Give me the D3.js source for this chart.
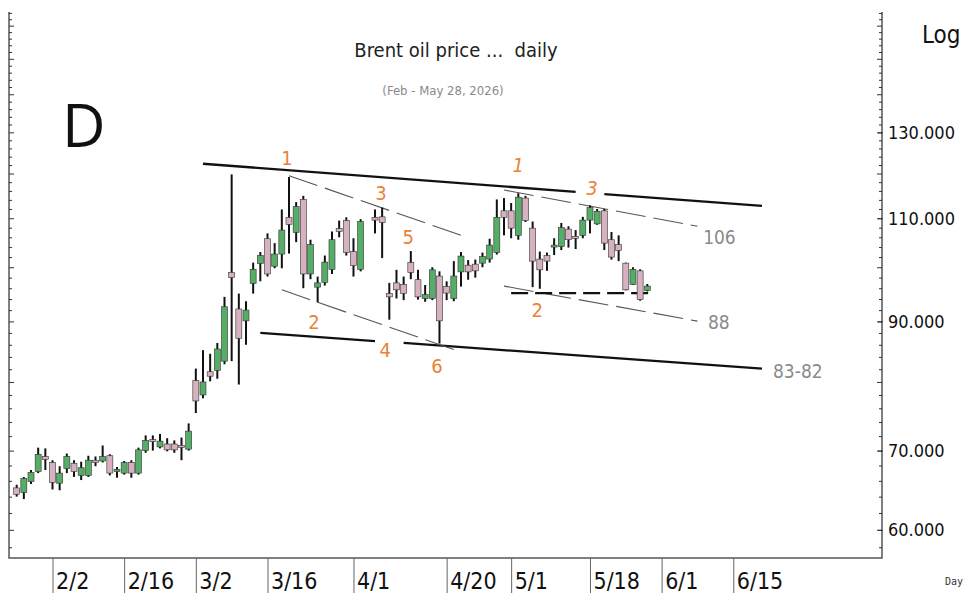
<!DOCTYPE html>
<html>
<head>
<meta charset="utf-8">
<script src="https://cdn.jsdelivr.net/npm/d3@7"></script>
<style>
  html, body { margin: 0; padding: 0; background: #fff; }
  svg { display: block; }
  text { font-family: "DejaVu Sans Condensed", "DejaVu Sans", sans-serif; font-stretch: condensed; }
</style>
</head>
<body>
<div id="chart"></div>
<script>
// Data (weekday index, 4/3 has no session)
var dates = [
  "2026-01-26","2026-01-27","2026-01-28","2026-01-29","2026-01-30",
  "2026-02-02","2026-02-03","2026-02-04","2026-02-05","2026-02-06",
  "2026-02-09","2026-02-10","2026-02-11","2026-02-12","2026-02-13",
  "2026-02-16","2026-02-17","2026-02-18","2026-02-19","2026-02-20",
  "2026-02-23","2026-02-24","2026-02-25","2026-02-26","2026-02-27",
  "2026-03-02","2026-03-03","2026-03-04","2026-03-05","2026-03-06",
  "2026-03-09","2026-03-10","2026-03-11","2026-03-12","2026-03-13",
  "2026-03-16","2026-03-17","2026-03-18","2026-03-19","2026-03-20",
  "2026-03-23","2026-03-24","2026-03-25","2026-03-26","2026-03-27",
  "2026-03-30","2026-03-31","2026-04-01","2026-04-02",
  "2026-04-06","2026-04-07","2026-04-08","2026-04-09","2026-04-10",
  "2026-04-13","2026-04-14","2026-04-15","2026-04-16","2026-04-17",
  "2026-04-20","2026-04-21","2026-04-22","2026-04-23","2026-04-24",
  "2026-04-27","2026-04-28","2026-04-29","2026-04-30","2026-05-01",
  "2026-05-04","2026-05-05","2026-05-06","2026-05-07","2026-05-08",
  "2026-05-11","2026-05-12","2026-05-13","2026-05-14","2026-05-15",
  "2026-05-18","2026-05-19","2026-05-20","2026-05-21","2026-05-22",
  "2026-05-25","2026-05-26","2026-05-27","2026-05-28"
];

var opens = [
  65.1, 64.5, 65.9, 67.2, 69.2,
  68.4, 65.7, 67.6, 68.3, 66.7,
  66.7, 68.7, 68.6, 69.3, 67.2,
  67.0, 68.4, 67.0, 70.0, 71.5,
  70.5, 70.9, 70.9, 70.7, 70.2,
  80.2, 78.0, 81.6, 81.8, 83.3,
  99.0, 92.2, 90.1, 96.9, 100.7,
  105.7, 100.2, 102.6, 110.2, 107.0,
  114.1, 98.7, 96.2, 97.1, 99.6,
  107.8, 109.5, 103.1, 99.6,
  110.2, 110.3, 95.0, 97.0, 96.7,
  100.9, 97.6, 94.1, 94.1, 98.3,
  96.3, 94.1, 99.1, 100.4, 100.6,
  100.8, 101.6, 102.9, 111.6, 111.6,
  106.4, 114.4, 107.9, 101.6, 102.3,
  104.0, 104.1, 107.7, 106.2, 106.4,
  109.6, 108.8, 111.6, 105.5, 104.5,
  100.8, 96.7, 99.3, 95.6
];

var highs = [
  65.5, 66.5, 67.4, 70.4, 70.3,
  68.7, 67.9, 69.6, 68.7, 68.5,
  69.3, 69.2, 70.7, 69.5, 67.8,
  68.6, 68.7, 70.4, 72.1, 72.1,
  72.3, 71.7, 71.4, 71.8, 73.8,
  82.1, 85.1, 84.5, 86.3, 94.4,
  119.8, 95.0, 93.6, 100.9, 103.0,
  106.8, 104.8, 111.9, 119.2, 113.5,
  114.9, 105.5, 98.2, 102.3, 107.2,
  109.5, 110.2, 105.8, 109.8,
  111.9, 112.3, 97.0, 99.5, 98.2,
  103.2, 99.5, 96.6, 100.0, 99.2,
  97.3, 101.2, 103.0, 101.4, 101.5,
  102.9, 105.7, 114.1, 114.4, 113.3,
  115.5, 114.9, 109.3, 103.1, 102.9,
  105.8, 109.0, 108.3, 107.5, 110.3,
  112.8, 112.0, 112.0, 107.1, 106.4,
  100.9, 100.0, 99.6, 96.8
];

var lows = [
  64.0, 63.7, 65.6, 67.0, 67.4,
  64.9, 64.8, 67.0, 66.5, 66.1,
  66.5, 67.9, 68.4, 66.7, 66.4,
  66.8, 66.4, 66.8, 69.7, 70.0,
  70.3, 69.9, 69.7, 68.7, 70.0,
  75.3, 77.5, 80.1, 80.5, 82.8,
  83.3, 79.6, 86.0, 95.0, 97.3,
  98.2, 99.8, 99.8, 102.7, 105.0,
  96.0, 97.7, 93.4, 96.5, 98.7,
  106.0, 102.3, 98.2, 99.2,
  106.8, 101.8, 90.3, 94.1, 93.8,
  97.7, 93.9, 93.5, 93.8, 86.2,
  93.8, 93.6, 96.3, 97.6, 98.0,
  100.0, 100.9, 102.5, 106.4, 105.8,
  105.5, 109.2, 96.2, 95.9, 99.3,
  102.4, 103.4, 103.9, 103.6, 105.8,
  106.8, 108.6, 103.4, 101.5, 101.2,
  95.6, 96.6, 93.7, 95.4
];

var closes = [
  64.3, 66.3, 67.1, 69.5, 68.8,
  65.8, 67.0, 69.2, 67.2, 67.7,
  68.7, 68.4, 69.2, 67.0, 67.5,
  68.4, 67.0, 70.1, 71.4, 71.3,
  71.3, 70.1, 70.1, 70.5, 72.7,
  77.1, 80.0, 80.9, 85.3, 92.6,
  98.0, 87.1, 92.0, 99.6, 102.3,
  98.7, 102.6, 107.5, 108.7, 112.5,
  98.7, 104.5, 97.0, 101.0, 105.5,
  107.2, 102.9, 100.3, 109.3,
  109.6, 109.1, 94.4, 95.7, 95.0,
  99.0, 94.4, 94.8, 99.5, 90.1,
  95.1, 98.3, 102.2, 99.1, 99.3,
  102.1, 104.4, 110.2, 110.2, 107.9,
  114.6, 109.5, 101.2, 99.5, 101.2,
  104.4, 108.0, 105.5, 105.8, 109.6,
  112.3, 111.5, 104.8, 102.0, 103.3,
  95.7, 99.6, 93.9, 96.4
];

// x axis labels
var axisDates = ["2026-02-02","2026-02-16","2026-03-02","2026-03-16","2026-04-01",
                 "2026-04-20","2026-05-01","2026-05-18","2026-06-01","2026-06-15"];
var axisTexts = ["2/2","2/16","3/2","3/16","4/1","4/20","5/1","5/18","6/1","6/15"];

// y axis labels
var priceTicks = [60, 70, 90, 110, 130];

// drawn channel lines [date, price]
var solidLines = [
  [["2026-03-03", 122.3], ["2026-05-14", 115.8]],
  [["2026-05-20", 115.3], ["2026-06-19", 112.7]],
  [["2026-03-13", 88.0], ["2026-04-06", 86.6]],
  [["2026-04-10", 86.3], ["2026-06-19", 82.1]]
];
var thinDashedLines = [
  [["2026-03-19", 119.5], ["2026-04-23", 105.9]],
  [["2026-03-18", 95.7], ["2026-04-22", 84.8]],
  [["2026-04-30", 116.2], ["2026-06-08", 108.3]],
  [["2026-04-30", 96.4], ["2026-06-08", 90.05]]
];
var thickDashedLines = [
  [["2026-05-01", 95.1], ["2026-05-28T12:00", 95.1]]
];

// wave counts [text, date, price, italic]
var waveLabels = [
  ["1", "2026-03-18T17:00", 123.7, false],
  ["2", "2026-03-24T12:00", 89.9, false],
  ["3", "2026-04-06T20:00", 115.6, false],
  ["4", "2026-04-07T10:00", 85.2, false],
  ["5", "2026-04-10T15:00", 106.1, false],
  ["6", "2026-04-16T16:00", 82.5, false],
  ["1", "2026-05-04", 122.0, true],
  ["2", "2026-05-06T15:00", 92.1, false],
  ["3", "2026-05-18T07:00", 116.7, true]
];

// level targets [text, date, price]
var levelLabels = [
  ["106", "2026-06-08T19:00", 106.1],
  ["88", "2026-06-09T11:00", 89.9],
  ["83-82", "2026-06-22T13:00", 81.7]
];

//Namespace
var bc = bc || {};

bc.width = 965;
bc.height = 593;
bc.plot = { left: 9, right: 882, top: 12, bottom: 558 };

// weekday count from 2/2, with optional hour fraction
bc.dayIndex = function(s) {
  var parts = s.split("T");
  var ymd = parts[0].split("-").map(Number);
  var hours = parts[1] ? +parts[1].split(":")[0] : 0;
  var diff = Math.round((Date.UTC(ymd[0], ymd[1] - 1, ymd[2]) - Date.UTC(2026, 1, 2)) / 864e5);
  var weeks = Math.floor(diff / 7);
  var rem = diff - weeks * 7;
  return weeks * 5 + Math.min(rem, 5) + hours / 24;
}

bc.x = d3.scaleLinear().domain([0, 83]).range([52.5, 647.3]);
bc.y = d3.scaleLog().domain([56.8, 164.3]).range([bc.plot.bottom, bc.plot.top]);

bc.px = function(d) { return bc.x(bc.dayIndex(d)); }

bc.buildSVG = function() {
  return d3.select("#chart").append("svg")
      .attr("width", bc.width).attr("height", bc.height);
}

bc.drawFrame = function(svg) {
  var p = bc.plot;
  var frame = svg.append("g").attr("stroke", "#555").attr("stroke-width", 1.5).attr("fill", "none");
  frame.append("path").attr("d", "M" + p.left + "," + p.top + "V" + p.bottom + "H" + p.right + "V" + p.top);

  var minor = d3.range(58, 165, 2);
  // right axis ticks, inside
  svg.append("g").attr("transform", "translate(" + p.right + ",0)")
      .call(d3.axisLeft(bc.y).tickValues(minor).tickSize(3).tickFormat(""))
      .call(function(g) {
        g.select(".domain").remove();
        g.selectAll(".tick line").attr("stroke", "#333")
          .attr("x2", function(d) { return d % 10 === 0 ? -5 : -3; });
      });
  // left axis ticks, inside
  svg.append("g").attr("transform", "translate(" + p.left + ",0)")
      .call(d3.axisRight(bc.y).tickValues(minor).tickSize(3).tickFormat(""))
      .call(function(g) {
        g.select(".domain").remove();
        g.selectAll(".tick line").attr("stroke", "#333")
          .attr("x2", function(d) { return d % 10 === 0 ? 5 : 3; });
      });
  // price labels
  svg.append("g").attr("transform", "translate(" + p.right + ",0)")
      .call(d3.axisRight(bc.y).tickValues(priceTicks).tickSize(4).tickPadding(2)
        .tickFormat(d3.format(".3f")))
      .call(function(g) {
        g.select(".domain").remove();
        g.selectAll(".tick line").attr("stroke", "#333").attr("x1", -4).attr("x2", 1);
        g.selectAll(".tick text").attr("font-size", 18).attr("fill", "#111")
          .style("font-family", null);
      });
  // date labels with separators below the plot
  var idx = axisDates.map(bc.dayIndex);
  svg.append("g").attr("transform", "translate(0," + p.bottom + ")")
      .call(d3.axisBottom(bc.x).tickValues(idx).tickSize(bc.height - p.bottom)
        .tickFormat(function(d, i) { return axisTexts[i]; }))
      .call(function(g) {
        g.select(".domain").remove();
        g.selectAll(".tick line").attr("stroke", "#666");
        g.selectAll(".tick text").attr("font-size", 23).attr("fill", "#111")
          .attr("text-anchor", "start").attr("x", 3).attr("y", 31).attr("dy", null)
          .style("font-family", null);
      });
}

bc.drawCandles = function(svg) {
  var data = dates.map(function(d, i) {
    return { date: d, o: opens[i], h: highs[i], l: lows[i], c: closes[i] };
  });
  var g = svg.append("g").attr("clip-path", "url(#plot-clip)");
  var candle = g.selectAll("g.candle").data(data).enter().append("g").attr("class", "candle");
  candle.append("line")
      .attr("x1", function(d) { return bc.px(d.date); })
      .attr("x2", function(d) { return bc.px(d.date); })
      .attr("y1", function(d) { return bc.y(d.h); })
      .attr("y2", function(d) { return bc.y(d.l); })
      .attr("stroke", "#111").attr("stroke-width", 2);
  candle.append("rect")
      .attr("x", function(d) { return bc.px(d.date) - 3; })
      .attr("width", 6)
      .attr("y", function(d) { return bc.y(Math.max(d.o, d.c)); })
      .attr("height", function(d) { return Math.max(2, Math.abs(bc.y(d.o) - bc.y(d.c))); })
      .attr("fill", function(d) { return d.c >= d.o ? "#55ad67" : "#d6b2c1"; })
      .attr("stroke", "#333").attr("stroke-width", 0.6);
}

bc.drawLines = function(svg) {
  var line = d3.line()
      .x(function(d) { return bc.px(d[0]); })
      .y(function(d) { return bc.y(d[1]); });
  var g = svg.append("g").attr("fill", "none").attr("clip-path", "url(#plot-clip)");
  g.selectAll("path.solid").data(solidLines).enter().append("path")
      .attr("class", "solid").attr("d", line)
      .attr("stroke", "#111").attr("stroke-width", 2.3);
  g.selectAll("path.thin").data(thinDashedLines).enter().append("path")
      .attr("class", "thin").attr("d", line)
      .attr("stroke", "#555").attr("stroke-width", 1.1).attr("stroke-dasharray", "30,8");
  g.selectAll("path.thick").data(thickDashedLines).enter().append("path")
      .attr("class", "thick").attr("d", line)
      .attr("stroke", "#111").attr("stroke-width", 2.2).attr("stroke-dasharray", "17,7");
}

bc.drawLabels = function(svg) {
  svg.selectAll("text.wave").data(waveLabels).enter().append("text")
      .attr("class", "wave")
      .attr("x", function(d) { return bc.px(d[1]); })
      .attr("y", function(d) { return bc.y(d[2]); })
      .attr("dy", "0.36em").attr("text-anchor", "middle")
      .attr("font-size", 20).attr("fill", "#ea8236")
      .attr("font-style", function(d) { return d[3] ? "italic" : "normal"; })
      .text(function(d) { return d[0]; });
  svg.selectAll("text.level").data(levelLabels).enter().append("text")
      .attr("class", "level")
      .attr("x", function(d) { return bc.px(d[1]); })
      .attr("y", function(d) { return bc.y(d[2]); })
      .attr("dy", "0.36em")
      .attr("font-size", 19).attr("fill", "#8a8a8a")
      .text(function(d) { return d[0]; });

  // titles
  svg.append("text").attr("x", 456).attr("y", 57).attr("text-anchor", "middle")
      .attr("font-size", 20).attr("fill", "#222").attr("xml:space", "preserve")
      .text("Brent oil price ...  daily");
  svg.append("text").attr("x", 443).attr("y", 95).attr("text-anchor", "middle")
      .attr("font-size", 13).attr("fill", "#8a8a8a")
      .text("(Feb - May 28, 2026)");
  svg.append("text").attr("x", 62).attr("y", 147)
      .attr("font-size", 60).attr("fill", "#111")
      .style("font-family", "'Open Sans', sans-serif").style("font-weight", 400)
      .style("font-stretch", "normal")
      .text("D");
  svg.append("text").attr("x", 922).attr("y", 43)
      .attr("font-size", 24).attr("fill", "#111").text("Log");
  svg.append("text").attr("x", 945).attr("y", 585)
      .attr("font-size", 10).attr("fill", "#333")
      .style("font-family", "'DejaVu Sans Mono', monospace").style("font-stretch", "normal")
      .text("Day");
}

bc.init = function() {
  var svg = bc.buildSVG();
  var p = bc.plot;
  svg.append("defs").append("clipPath").attr("id", "plot-clip")
      .append("rect").attr("x", p.left + 1).attr("y", p.top)
      .attr("width", p.right - p.left - 2).attr("height", p.bottom - p.top);
  bc.drawFrame(svg);
  bc.drawLines(svg);
  bc.drawCandles(svg);
  bc.drawLabels(svg);
}

bc.init();
</script>
</body>
</html>
